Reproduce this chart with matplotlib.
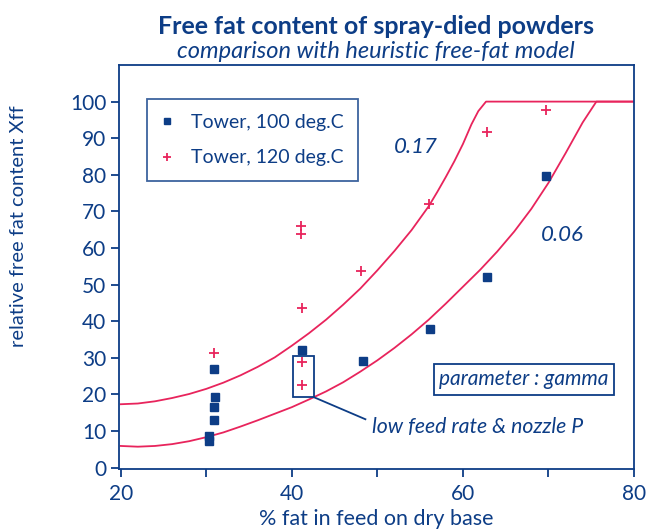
import matplotlib
matplotlib.use("Agg")
import matplotlib.pyplot as plt
from matplotlib.patches import Rectangle

plt.rcParams['font.family'] = ['Lato', 'DejaVu Sans']

BLUE = '#0d3d86'
RED = '#e8245c'

# measured points
t100_x = [30.3, 30.3, 30.9, 30.9, 31.0, 30.9, 41.2, 48.3, 56.1, 62.8, 69.7]
t100_y = [7.3, 8.7, 12.9, 16.6, 19.4, 26.9, 32.2, 29.0, 37.9, 52.0, 79.8]
t120_x = [30.9, 41.2, 41.2, 41.1, 41.1, 41.2, 48.1, 56.0, 62.8, 69.7]
t120_y = [31.4, 22.6, 28.9, 63.8, 66.1, 43.7, 53.7, 72.0, 91.7, 97.6]

# heuristic model curves (gamma = 0.17 and 0.06)
g17_x = [20, 22, 24, 26, 28, 30, 32, 34, 36, 38, 40, 42, 44, 46, 48, 50, 52, 54,
         56, 57, 58, 59, 60, 61, 61.8, 62.7, 80]
g17_y = [17.3, 17.5, 18.1, 19.0, 20.1, 21.5, 23.2, 25.2, 27.5, 30.1, 33.3, 36.7,
         40.4, 44.5, 48.9, 53.9, 59.2, 64.9, 71.4, 75.3, 79.4, 83.7, 88.4, 93.8,
         97.4, 100, 100]
g06_x = [20, 22, 24, 26, 28, 30, 32, 34, 36, 38, 40, 42, 44, 46, 48, 50, 52, 54,
         56, 58, 60, 62, 64, 66, 68, 70, 72, 74, 74.7, 75.6, 80]
g06_y = [5.9, 5.7, 5.9, 6.4, 7.2, 8.3, 9.6, 11.2, 12.9, 14.7, 16.5, 18.6, 20.8,
         23.3, 26.2, 29.3, 32.7, 36.4, 40.4, 44.8, 49.4, 54.0, 59.0, 64.5, 70.7,
         77.8, 85.9, 94.3, 96.8, 100, 100]

fig = plt.figure(figsize=(6.49, 5.32), dpi=100)
ax = fig.add_axes([0.1834, 0.1184, 0.7935, 0.7594])

ax.plot(g17_x, g17_y, color=RED, lw=1.3, zorder=2)
ax.plot(g06_x, g06_y, color=RED, lw=1.3, zorder=2)
ax.plot(t100_x, t100_y, ls='none', marker='s', ms=6.2, color=BLUE,
        label='Tower, 100 deg.C', zorder=3)
ax.plot(t120_x, t120_y, ls='none', marker='+', ms=6.5, mew=1.3, color=RED,
        label='Tower, 120 deg.C', zorder=3)

ax.set_xlim(19.8, 80)
ax.set_ylim(-0.4, 110)
ax.set_xticks([20, 40, 60, 80])
ax.set_xticks([30, 50, 70], minor=True)
ax.set_yticks(range(0, 101, 10))
for s in ax.spines.values():
    s.set_color(BLUE)
    s.set_linewidth(1.3)
ax.tick_params(which='both', colors=BLUE, labelcolor=BLUE, width=1.3, length=6,
               labelsize=15, pad=3)
ax.tick_params(axis='x', pad=5)

ax.set_xlabel('% fat in feed on dry base', color=BLUE, fontsize=15.5)
ax.xaxis.set_label_coords(0.5, -0.098)
ax.set_ylabel('relative free fat content Xff', color=BLUE, fontsize=14.5)
ax.yaxis.set_label_coords(-0.178, 0.6)

leg = ax.legend(loc='upper left', bbox_to_anchor=(0.054, 0.915), fontsize=14,
                frameon=True, fancybox=False, borderpad=0.75, labelspacing=0.95,
                handlelength=0.6, handletextpad=0.9, markerscale=0.8,
                borderaxespad=0)
leg.get_frame().set_edgecolor(BLUE)
leg.get_frame().set_linewidth(1.3)
for t in leg.get_texts():
    t.set_color(BLUE)

ax.text(54.5, 87.5, '0.17', color=BLUE, fontsize=16, style='italic',
        ha='center', va='center')
ax.text(71.6, 63.6, '0.06', color=BLUE, fontsize=16, style='italic',
        ha='center', va='center')
ax.text(67.1, 24.1, 'parameter : gamma', color=BLUE, fontsize=15, style='italic',
        ha='center', va='center',
        bbox=dict(boxstyle='square,pad=0.25', fc='white', ec=BLUE, lw=1.3))

ax.add_patch(Rectangle((40.15, 19.2), 2.45, 11.3, fill=False, ec=BLUE, lw=1.3, zorder=4))
ax.plot([42.6, 48.6], [19.2, 13.2], color=BLUE, lw=1.3, zorder=4)
ax.text(49.4, 11.2, 'low feed rate & nozzle P', color=BLUE, fontsize=15.3,
        style='italic', ha='left', va='center')

fig.text(0.579, 0.95, 'Free fat content of spray-died powders', color=BLUE,
         fontsize=18, fontweight='bold', ha='center', va='center')
fig.text(0.579, 0.904, 'comparison with heuristic free-fat model', color=BLUE,
         fontsize=17, style='italic', ha='center', va='center')

fig.savefig('out.png', dpi=100)
